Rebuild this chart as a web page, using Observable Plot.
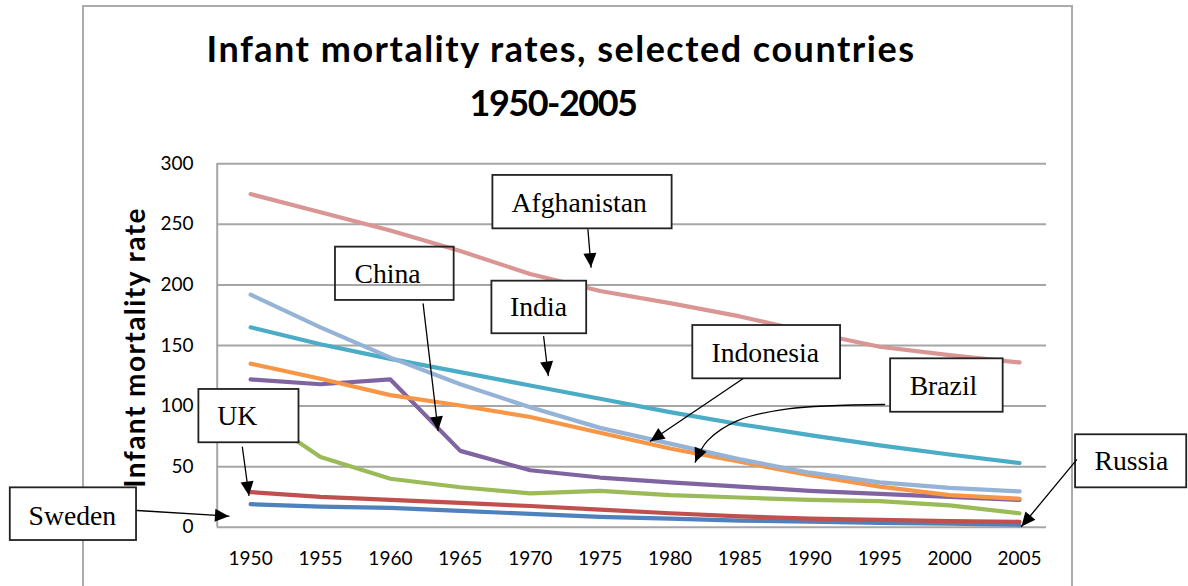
<!DOCTYPE html>
<html>
<head>
<meta charset="utf-8">
<script src="https://cdn.jsdelivr.net/npm/d3@7"></script>
<script src="https://cdn.jsdelivr.net/npm/@observablehq/plot@0.6"></script>
<style>
html, body { margin: 0; padding: 0; background: #fff; }
#wrap { position: relative; width: 1188px; height: 586px; overflow: hidden; background: #fff; }
#frame { position: absolute; left: 82px; top: 5px; width: 991px; height: 700px; border: 2px solid #ababab; box-sizing: border-box; }
.title { position: absolute; font-family: Lato, "Open Sans", sans-serif; font-weight: 700; font-size: 36px; line-height: 1; white-space: nowrap; color: #000; transform: translateX(-50%); }
#t1 { left: 561px; top: 29.8px; letter-spacing: 1.5px; }
#t2 { left: 553px; top: 83.8px; letter-spacing: -1.5px; }
#chart { position: absolute; left: 0; top: 140px; }
</style>
</head>
<body>
<div id="wrap">
  <div id="frame"></div>
  <div class="title" id="t1">Infant mortality rates, selected countries</div>
  <div class="title" id="t2">1950-2005</div>
  <div id="chart"></div>
</div>
<script>
// ---- data ----
const years = [1950, 1955, 1960, 1965, 1970, 1975, 1980, 1985, 1990, 1995, 2000, 2005];
const yTicks = [0, 50, 100, 150, 200, 250, 300];
const sweden      = [19, 17, 16, 13.5, 11, 8.5, 7, 5.5, 4.5, 3.5, 3, 2];
const uk          = [29, 25, 22.5, 20, 17.5, 14.5, 11.5, 9, 7, 6, 5, 4.5];
const russia      = [97, 58, 40, 33, 28, 30, 26.5, 24.5, 22.5, 21.5, 18, 11.5];
const china       = [122, 118, 122, 63, 47, 41, 37, 33.5, 30, 27.5, 25, 22.5];
const india       = [165, 151, 139, 128, 117, 106, 95, 85, 76, 67.5, 60, 53];
const brazil      = [135, 122.5, 109, 100.5, 91, 78, 65, 54, 43, 33.5, 26.5, 23.5];
const indonesia   = [192, 165, 140, 118, 99, 82, 69, 56, 45, 37, 32.5, 29.5];
const afghanistan = [275, 260, 245, 228, 209, 195, 185, 174, 161, 149, 142, 136];

const seriesNames  = ["Sweden", "UK", "Russia", "China", "India", "Brazil", "Indonesia", "Afghanistan"];
const seriesValues = [sweden, uk, russia, china, india, brazil, indonesia, afghanistan];
const seriesColors = ["#4F81BD", "#C0504D", "#9BBB59", "#8064A2", "#4BACC6", "#F79646", "#95B3D7", "#D99694"];

// ---- annotation callouts (in data units: year, rate) ----
const boxLabels = ["Afghanistan", "China", "India", "UK", "Sweden", "Indonesia", "Brazil", "Russia"];
const boxX1 = [1967.33, 1956.07, 1967.26, 1946.30, 1932.81, 1981.63, 1995.78, 2009.01];
const boxX2 = [1980.15, 1964.56, 1974.04, 1953.46, 1941.84, 1992.20, 2003.83, 2016.96];
const boxY1 = [246.3, 187.2, 159.7, 69.7, -11.0, 122.5, 94.9, 32.5];
const boxY2 = [290.4, 231.2, 203.1, 113.7, 32.5, 166.5, 139.0, 76.3];
const boxFilled = [true, false, true, true, true, true, true, true];
const textX = [1973.5, 1959.79, 1970.59, 1949.05, 1937.25, 1986.81, 1999.56, 2013.0];
const textY = [267.9, 208.6, 181.6, 91.4, 9.2, 143.8, 116.3, 54.2];
const arrowPts = [
  ["Afghanistan", [[1974.13, 245.6], [1974.35, 214.6]]],
  ["China", [[1962.34, 184.4], [1963.41, 79.8]]],
  ["India", [[1970.96, 157.4], [1971.29, 125.2]]],
  ["UK", [[1949.41, 66.0], [1949.88, 26.2]]],
  ["Sweden", [[1941.89, 13.8], [1948.45, 9.1]]],
  ["Indonesia", [[1985.21, 122.5], [1978.59, 71.0]]],
  ["Brazil", [[1995.35, 101.3], [1988.43, 97.7], [1984.84, 88.0], [1982.69, 71.5], [1981.80, 53.7]]],
  ["Russia", [[2009.08, 55.6], [2005.14, 0.6]]]
];

// ---- build tables ----
const rows = seriesNames.flatMap((name, i) => years.map((year, j) => ({name, year, value: seriesValues[i][j]})));
const boxes = boxLabels.map((label, i) => ({label, x1: boxX1[i], x2: boxX2[i], y1: boxY1[i], y2: boxY2[i], filled: boxFilled[i], tx: textX[i], ty: textY[i]}));
const arrowRows = arrowPts.flatMap(([label, pts]) => pts.map(([x, y]) => ({label, x, y})));
const xDomain = [1947.61, 2006.93];
const yTitle = "Infant mortality rate";

const plot = Plot.plot({
  width: 1188,
  height: 446,
  marginTop: 23.3,
  marginBottom: 59.3,
  marginLeft: 216.7,
  marginRight: 142,
  style: {fontFamily: "Lato, 'Open Sans', sans-serif", fontSize: "19px", background: "transparent", color: "#000", overflow: "visible"},
  x: {domain: xDomain, label: null},
  y: {domain: [0, 300], label: null},
  color: {domain: seriesNames, range: seriesColors},
  marks: [
    Plot.ruleY(yTicks, {stroke: "#a6a6a6", strokeWidth: 2}),
    Plot.ruleX([xDomain[0]], {y1: 0, y2: 300, stroke: "#a6a6a6", strokeWidth: 2}),
    Plot.axisX({ticks: years, tickFormat: d => String(d), tickSize: 0, tickPadding: 24, fontSize: 19, label: null}),
    Plot.axisY({ticks: yTicks, tickSize: 0, tickPadding: 23.7, fontSize: 19, label: null}),
    Plot.text([yTitle], {frameAnchor: "left", dx: -72.7, dy: 2, rotate: -90, lineAnchor: "bottom", textAnchor: "middle", fontWeight: "bold", fontSize: 28, fill: "#000"}),
    Plot.line(rows, {x: "year", y: "value", z: "name", stroke: "name", strokeWidth: 4.2, strokeLinecap: "round", strokeLinejoin: "round"}),
    Plot.rect(boxes, {x1: "x1", x2: "x2", y1: "y1", y2: "y2", fill: d => d.filled ? "white" : "none", stroke: "#222", strokeWidth: 1.8}),
    Plot.text(boxes, {x: "tx", y: "ty", text: "label", fontFamily: "'Liberation Serif', 'Times New Roman', serif", fontSize: 27.7, fill: "#000", lineAnchor: "middle", textAnchor: "middle"}),
    Plot.line(arrowRows, {x: "x", y: "y", z: "label", curve: "catmull-rom", stroke: "#000", strokeWidth: 1.3, markerEnd: "arrow"})
  ]
});

// widen the y-axis title to the reference's extent
plot.querySelectorAll("text").forEach(t => {
  if (t.textContent === yTitle) t.style.letterSpacing = "1.45px";
});

// filled triangular arrowheads
plot.querySelectorAll("marker").forEach(m => {
  m.setAttribute("viewBox", "-16 -8 17 16");
  m.setAttribute("markerWidth", 17);
  m.setAttribute("markerHeight", 16);
  m.setAttribute("markerUnits", "userSpaceOnUse");
  m.setAttribute("refX", 0);
  m.setAttribute("refY", 0);
  m.setAttribute("fill", "#000");
  m.setAttribute("stroke", "none");
  while (m.firstChild) m.removeChild(m.firstChild);
  const p = document.createElementNS("http://www.w3.org/2000/svg", "path");
  p.setAttribute("d", "M-14,-6.5L0,0L-14,6.5Z");
  m.appendChild(p);
});

document.getElementById("chart").appendChild(plot);
</script>
</body>
</html>
